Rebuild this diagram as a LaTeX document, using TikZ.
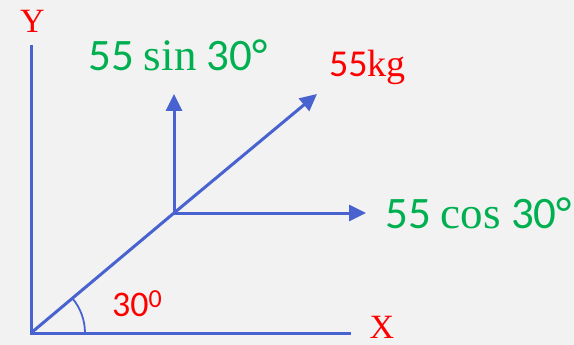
\documentclass[tikz,border=0pt]{standalone}
\usepackage{fontspec}
\setmainfont{Carlito}
\newfontfamily\serifit{Liberation Serif}
\usetikzlibrary{arrows.meta,calc}
\definecolor{axisblue}{RGB}{72,98,208}
\definecolor{labgreen}{RGB}{0,176,80}
\definecolor{labred}{RGB}{255,0,0}
\definecolor{bg}{RGB}{242,242,242}
\begin{document}
\begin{tikzpicture}[x=1pt,y=-1pt,
  line/.style={draw=axisblue,line width=3pt},
  vec/.style={line,-{Triangle[length=17pt,width=16pt]}},
  lbl/.style={inner sep=0pt,anchor=base west},
  ang/.style={draw=axisblue,line width=1.8pt}]
\fill[bg] (0,0) rectangle (574,345);
\useasboundingbox (0,0) rectangle (574,345);
\coordinate (O) at (31,333);
\coordinate (J) at (174,213);
\coordinate (Ytop) at (31,45);
\coordinate (Xend) at (351,333);
\coordinate (Vtip) at (174,94);
\coordinate (Dtip) at (317,94);
\coordinate (Htip) at (366,213);
\draw[line] (Ytop) -- (O) -- (Xend);
\draw[line] (O) -- (J);
\draw[vec] (J) -- (Dtip);
\draw[vec] (J) -- (Vtip);
\draw[vec] (J) -- (Htip);
\draw[ang] ($(O)+(54,0)$) arc[start angle=0,end angle=-40,radius=54];
\node[inner sep=0pt,anchor=base,text=labred,font=\serifit\fontsize{34}{34}\selectfont] (ylab) at (32.5,33) {Y};
\node[inner sep=0pt,anchor=base,text=labred,font=\serifit\fontsize{34}{34}\selectfont] (xlab) at (382,338) {X};
\node[lbl,text=labgreen,font=\fontsize{45}{45}\selectfont] (sinlab) at (88,71) {55 {\serifit sin} 30°};
\node[lbl,text=labgreen,font=\fontsize{45}{45}\selectfont] (coslab) at (385,228) {55 {\serifit cos} 30°};
\node[lbl,text=labred,font=\fontsize{38}{38}\selectfont] (kglab) at (329,77) {55{\serifit kg}};
\node[lbl,text=labred,font=\fontsize{36}{36}\selectfont] (anglab) at (112,316) {30\raisebox{9pt}{\fontsize{26}{26}\selectfont 0}};
\end{tikzpicture}
\end{document}
